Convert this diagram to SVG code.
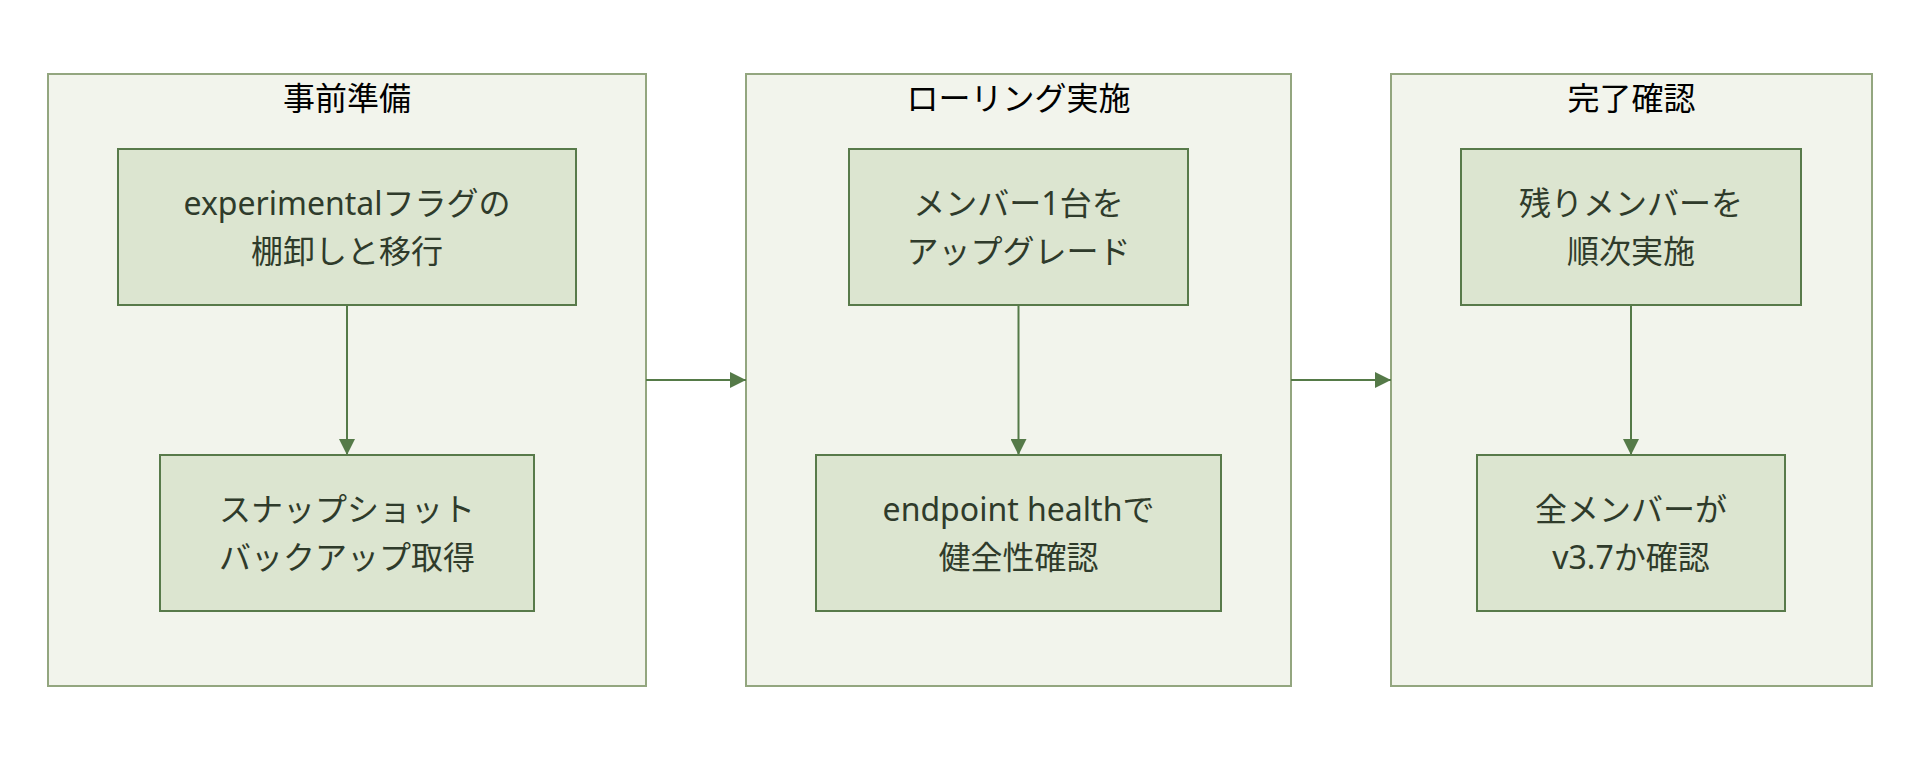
<svg xmlns="http://www.w3.org/2000/svg" width="1920" height="764" viewBox="0 0 1920 764">
<style>
.cluster{fill:#f2f4ec;stroke:#93a67f;stroke-width:2}
.node{fill:#dce5d0;stroke:#587a4a;stroke-width:2}
.title{font-family:"Noto Sans","Noto Sans CJK JP",sans-serif;font-size:32px;fill:#000;text-anchor:middle}
.label{font-family:"Noto Sans","Noto Sans CJK JP",sans-serif;font-size:32px;fill:#2f3b2b;text-anchor:middle}
.edge{stroke:#557a48;stroke-width:2;fill:none}
</style>
<defs>
<marker id="arrow" viewBox="0 0 16 16" refX="16" refY="8" markerWidth="16" markerHeight="16" markerUnits="userSpaceOnUse" orient="auto">
<path d="M0,0 L16,8 L0,16 z" fill="#557a48"/>
</marker>
</defs>
<rect width="1920" height="764" fill="#ffffff"/>
<g id="cluster-prep">
<rect class="cluster" x="48" y="74" width="598" height="612"/>
<text class="title" x="347" y="110">事前準備</text>
</g>
<g id="cluster-rolling">
<rect class="cluster" x="746" y="74" width="545" height="612"/>
<text class="title" x="1018.5" y="110">ローリング実施</text>
</g>
<g id="cluster-done">
<rect class="cluster" x="1391" y="74" width="481" height="612"/>
<text class="title" x="1631.5" y="110">完了確認</text>
</g>
<g id="connectors">
<line class="edge" x1="347" y1="305" x2="347" y2="455" marker-end="url(#arrow)"/>
<line class="edge" x1="1018.5" y1="305" x2="1018.5" y2="455" marker-end="url(#arrow)"/>
<line class="edge" x1="1631" y1="305" x2="1631" y2="455" marker-end="url(#arrow)"/>
<line class="edge" x1="646" y1="380" x2="746" y2="380" marker-end="url(#arrow)"/>
<line class="edge" x1="1291" y1="380" x2="1391" y2="380" marker-end="url(#arrow)"/>
</g>
<g id="node-flag">
<rect class="node" x="118" y="149" width="458" height="156"/>
<text class="label" x="347" y="215">experimentalフラグの</text>
<text class="label" x="347" y="263">棚卸しと移行</text>
</g>
<g id="node-snapshot">
<rect class="node" x="160" y="455" width="374" height="156"/>
<text class="label" x="347" y="521">スナップショット</text>
<text class="label" x="347" y="569">バックアップ取得</text>
</g>
<g id="node-upgrade-one">
<rect class="node" x="849" y="149" width="339" height="156"/>
<text class="label" x="1018.5" y="215">メンバー1台を</text>
<text class="label" x="1018.5" y="263">アップグレード</text>
</g>
<g id="node-health">
<rect class="node" x="816" y="455" width="405" height="156"/>
<text class="label" x="1018.5" y="521">endpoint healthで</text>
<text class="label" x="1018.5" y="569">健全性確認</text>
</g>
<g id="node-rest">
<rect class="node" x="1461" y="149" width="340" height="156"/>
<text class="label" x="1631" y="215">残りメンバーを</text>
<text class="label" x="1631" y="263">順次実施</text>
</g>
<g id="node-verify">
<rect class="node" x="1477" y="455" width="308" height="156"/>
<text class="label" x="1631" y="521">全メンバーが</text>
<text class="label" x="1631" y="569">v3.7か確認</text>
</g>
</svg>
